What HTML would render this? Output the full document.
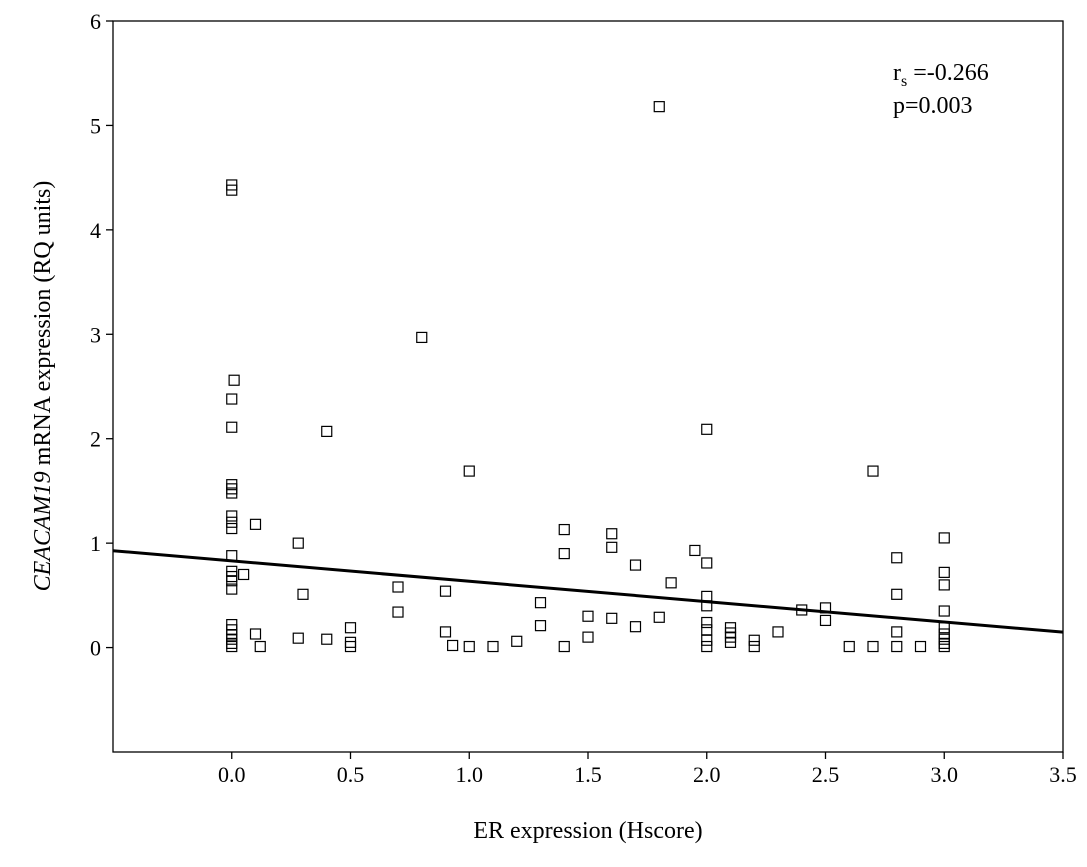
<!DOCTYPE html>
<html><head><meta charset="utf-8"><style>
body{margin:0;background:#fff}
svg text{font-family:"Liberation Serif",serif;fill:#000}
</style></head><body>
<svg id="chart" width="1087" height="862" viewBox="0 0 1087 862" xmlns="http://www.w3.org/2000/svg">
<rect x="113" y="21" width="950" height="731" fill="none" stroke="#000" stroke-width="1.3"/>
<g id="ticks"></g>
<g id="points"></g>
<g id="fit"></g>
<text x="588" y="838" font-size="24" text-anchor="middle">ER expression (Hscore)</text>
<text transform="translate(50,386) rotate(-90)" font-size="24" text-anchor="middle"><tspan font-style="italic">CEACAM19</tspan> mRNA expression (RQ units)</text>
<text x="893" y="80" font-size="24">r<tspan font-size="16" dy="6">s</tspan><tspan dy="-6"> =-0.266</tspan></text>
<text x="893" y="113" font-size="24">p=0.003</text>
</svg>
<script>
const xTicks=[0,0.5,1,1.5,2,2.5,3,3.5];
const xTickLabels=["0.0","0.5","1.0","1.5","2.0","2.5","3.0","3.5"];
const yTicks=[0,1,2,3,4,5,6];
const yTickLabels=["0","1","2","3","4","5","6"];
const ptX=[0,0,0.01,0,0,0,0,0,0,0,0,0,0,0,0,0,0,0,0,0,0,0,0.05,0.10,0.10,0.12,0.28,0.28,0.30,0.40,0.40,0.5,0.5,0.5,0.70,0.70,0.80,0.90,0.90,0.93,1.0,1.0,1.1,1.2,1.3,1.3,1.4,1.4,1.4,1.5,1.5,1.6,1.6,1.6,1.7,1.7,1.8,1.8,1.85,1.95,2.0,2.0,2.0,2.0,2.0,2.0,2.0,2.0,2.1,2.1,2.1,2.1,2.2,2.2,2.3,2.4,2.5,2.5,2.6,2.7,2.7,2.8,2.8,2.8,2.8,2.9,3,3,3,3,3,3,3,3,3];
const ptY=[4.43,4.38,2.56,2.38,2.11,1.56,1.52,1.48,1.26,1.20,1.14,0.88,0.73,0.68,0.64,0.56,0.22,0.17,0.12,0.08,0.04,0.01,0.70,1.18,0.13,0.01,1.00,0.09,0.51,2.07,0.08,0.19,0.05,0.01,0.58,0.34,2.97,0.54,0.15,0.02,1.69,0.01,0.01,0.06,0.43,0.21,1.13,0.90,0.01,0.30,0.10,1.09,0.96,0.28,0.79,0.20,5.18,0.29,0.62,0.93,2.09,0.81,0.49,0.40,0.24,0.17,0.07,0.01,0.19,0.14,0.10,0.05,0.07,0.01,0.15,0.36,0.38,0.26,0.01,1.69,0.01,0.86,0.51,0.15,0.01,0.01,1.05,0.72,0.60,0.35,0.19,0.13,0.08,0.04,0.01];
const fitIntercept=0.83, fitSlope=-0.195;
const NS="http://www.w3.org/2000/svg";
const X0=113,X1=1063,Y0=752,Y1=21,xmin=-0.5,xmax=3.5,ymin=-1,ymax=6;
const sx=v=>X0+(v-xmin)/(xmax-xmin)*(X1-X0);
const sy=v=>Y0-(v-ymin)/(ymax-ymin)*(Y0-Y1);
function mk(t,a,p){const e=document.createElementNS(NS,t);for(const k in a)e.setAttribute(k,a[k]);p.appendChild(e);return e;}
const tg=document.getElementById('ticks');
xTicks.forEach((v,i)=>{
 const l=mk('line',{x1:sx(v),x2:sx(v),y1:Y0,y2:Y0+7,stroke:'#000','stroke-width':1.3},tg);
 
 
 const t=mk('text',{x:sx(v),y:Y0+30,'font-size':22,'text-anchor':'middle'},tg);t.textContent=xTickLabels[i];
 
 
});
yTicks.forEach((v,i)=>{
 const l=mk('line',{x1:X0-7,x2:X0,y1:sy(v),y2:sy(v),stroke:'#000','stroke-width':1.3},tg);
 
 
 const t=mk('text',{x:X0-12,y:sy(v)+8,'font-size':22,'text-anchor':'end'},tg);t.textContent=yTickLabels[i];
 
 
});
const pg=document.getElementById('points');
ptX.forEach((v,i)=>{
 const r=mk('rect',{x:sx(v)-5,y:sy(ptY[i])-5,width:10,height:10,fill:'none',stroke:'#000','stroke-width':1.2},pg);
 
 
});
const fl=mk('line',{x1:sx(xmin),y1:sy(fitIntercept+fitSlope*xmin),x2:sx(xmax),y2:sy(fitIntercept+fitSlope*xmax),stroke:'#000','stroke-width':3},document.getElementById('fit'));


</script>
</body></html>
